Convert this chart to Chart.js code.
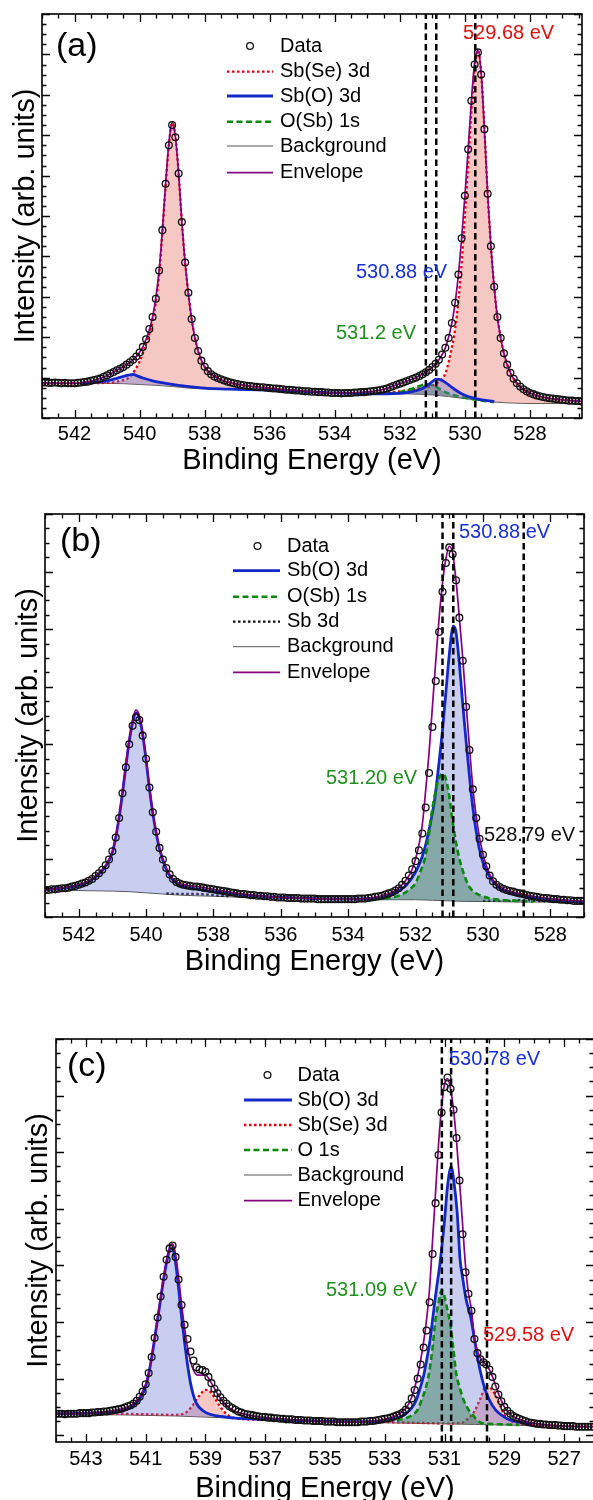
<!DOCTYPE html>
<html><head><meta charset="utf-8">
<script src="https://cdn.jsdelivr.net/npm/chart.js@4.4.1/dist/chart.umd.min.js"></script>
<style>
html,body{margin:0;padding:0;background:#fff;overflow:hidden;width:593px;height:1500px}
#wrap{position:relative;width:593px;height:1500px;overflow:hidden;background:#fff}
canvas{position:absolute;left:0}
</style></head><body><div id="wrap">
<canvas id="pa" width="593" height="495" style="top:0px;width:593px;height:495px"></canvas>
<canvas id="pb" width="593" height="510" style="top:495px;width:593px;height:510px"></canvas>
<canvas id="pc" width="600" height="495" style="top:1005px;width:600px;height:495px"></canvas>
</div>
<script>
// ---------------- Panel (a) ----------------
const aTicks = [542,540,538,536,534,532,530,528];
const aPeaks = [531.2,530.88,529.68];
const aPeakLabels = ['531.2 eV','530.88 eV','529.68 eV'];
const aDataE = [543,
542.9,542.8,542.7,542.6,542.5,542.4,542.3,542.2,542.1,542,
541.9,541.8,541.7,541.6,541.5,541.4,541.3,541.2,541.1,541,
540.9,540.8,540.7,540.6,540.5,540.4,540.3,540.2,540.1,540,
539.9,539.8,539.7,539.6,539.5,539.4,539.3,539.2,539.1,539,
538.9,538.8,538.7,538.6,538.5,538.4,538.3,538.2,538.1,538,
537.9,537.8,537.7,537.6,537.5,537.4,537.3,537.2,537.1,537,
536.9,536.8,536.7,536.6,536.5,536.4,536.3,536.2,536.1,536,
535.9,535.8,535.7,535.6,535.5,535.4,535.3,535.2,535.1,535,
534.9,534.8,534.7,534.6,534.5,534.4,534.3,534.2,534.1,534,
533.9,533.8,533.7,533.6,533.5,533.4,533.3,533.2,533.1,533,
532.9,532.8,532.7,532.6,532.5,532.4,532.3,532.2,532.1,532,
531.9,531.8,531.7,531.6,531.5,531.4,531.3,531.2,531.1,531,
530.9,530.8,530.7,530.6,530.5,530.4,530.3,530.2,530.1,530,
529.9,529.8,529.7,529.6,529.5,529.4,529.3,529.2,529.1,529,
528.9,528.8,528.7,528.6,528.5,528.4,528.3,528.2,528.1,528,
527.9,527.8,527.7,527.6,527.5,527.4,527.3,527.2,527.1,527,
526.9,526.8,526.7,526.6,526.5,526.4];
const aDataI = [0.88,
0.88,0.87,0.87,0.88,0.87,0.86,0.87,0.86,0.86,0.86,
0.87,0.88,0.89,0.9,0.92,0.94,0.96,0.98,1.02,1.06,
1.1,1.14,1.18,1.22,1.26,1.32,1.38,1.44,1.52,1.62,
1.76,1.95,2.2,2.5,2.95,3.65,4.65,5.8,6.75,7.25,
6.95,6.05,4.85,3.85,3.1,2.45,1.98,1.66,1.42,1.27,
1.16,1.08,1.03,0.99,0.96,0.93,0.9,0.88,0.86,0.84,
0.82,0.81,0.8,0.79,0.78,0.77,0.76,0.76,0.75,0.74,
0.73,0.73,0.72,0.71,0.7,0.7,0.69,0.68,0.68,0.67,
0.66,0.66,0.65,0.65,0.64,0.64,0.63,0.63,0.62,0.62,
0.62,0.61,0.62,0.62,0.62,0.63,0.63,0.64,0.64,0.65,
0.66,0.67,0.68,0.69,0.71,0.73,0.76,0.79,0.82,0.85,
0.88,0.91,0.94,0.97,1.0,1.04,1.08,1.13,1.19,1.26,
1.34,1.44,1.57,1.74,1.98,2.35,2.85,3.55,4.45,5.5,
6.65,7.85,8.75,9.05,8.5,7.15,5.55,4.25,3.25,2.5,
1.98,1.6,1.32,1.12,0.97,0.86,0.78,0.71,0.66,0.62,
0.59,0.56,0.54,0.52,0.5,0.49,0.48,0.47,0.46,0.45,
0.44,0.43,0.43,0.42,0.42,0.41];
const aEnvE = [543,542,541.6,541.2,540.8,540.4,540.2,540,539.8,539.6,539.4,539.3,539.2,539.1,539,538.9,538.8,538.7,538.6,538.4,538.2,538,537.6,537,536,535,534,533,532.5,532,531.5,531,530.8,530.6,530.4,530.3,530.2,530.1,530,529.9,529.8,529.7,529.6,529.5,529.4,529.3,529.2,529.1,529,528.8,528.6,528.4,528.2,528,527.5,527,526.4];
const aEnvI = [0.87,0.86,0.9,0.98,1.14,1.32,1.44,1.62,1.95,2.5,3.65,4.65,5.8,6.8,7.33,6.98,6.05,4.85,3.85,2.45,1.66,1.27,0.99,0.84,0.74,0.67,0.62,0.65,0.71,0.85,1.0,1.26,1.44,1.74,2.35,2.85,3.55,4.45,5.5,6.65,7.85,8.8,9.1,8.55,7.15,5.55,4.25,3.25,2.5,1.6,1.12,0.86,0.71,0.62,0.5,0.45,0.41];
const aSbSeE = [543,542,541,540.6,540.3,540,539.8,539.6,539.4,539.3,539.2,539.1,539,538.9,538.8,538.7,538.6,538.4,538.2,538,537.6,537,536,535,534,533,532.5,532,531.5,531.2,531,530.8,530.6,530.4,530.3,530.2,530.1,530,529.9,529.8,529.7,529.6,529.5,529.4,529.3,529.2,529.1,529,528.8,528.6,528.4,528.2,528,527.5,527,526.4];
const aSbSeI = [0.86,0.86,0.87,0.92,1.02,1.4,1.85,2.4,3.55,4.6,5.75,6.75,7.3,6.98,6.05,4.85,3.85,2.45,1.66,1.27,0.99,0.84,0.74,0.67,0.62,0.62,0.63,0.66,0.72,0.76,0.8,0.9,1.1,1.75,2.2,2.9,3.85,5.0,6.3,7.6,8.7,9.1,8.55,7.15,5.55,4.25,3.25,2.5,1.6,1.12,0.86,0.71,0.62,0.5,0.45,0.41];
const aSbOE = [541.8,541.4,541,540.7,540.5,540.3,540.2,540.1,539.9,539.6,539.2,538.8,538.4,538,537.5,537,536,535,534,533,532.4,532,531.7,531.4,531.2,531,530.88,530.7,530.5,530.3,530.1,529.9,529.6,529.3,529.1];
const aSbOI = [0.86,0.88,0.92,0.98,1.03,1.07,1.08,1.05,0.99,0.92,0.86,0.81,0.77,0.74,0.72,0.71,0.69,0.66,0.62,0.6,0.6,0.61,0.64,0.7,0.78,0.9,0.96,0.93,0.82,0.7,0.6,0.53,0.47,0.43,0.41];
const aOSbE = [532.6,532.2,531.9,531.6,531.4,531.2,531,530.8,530.6,530.3,530,529.7,529.4,529.1];
const aOSbI = [0.6,0.62,0.66,0.73,0.79,0.84,0.81,0.73,0.64,0.56,0.5,0.46,0.42,0.4];
const aBgE = [543,541.5,540.5,540,539.5,539,538.5,538,537,536,535,534,533,532,531.5,531,530.5,530,529.5,529,528.5,528,527,526.4];
const aBgI = [0.86,0.86,0.85,0.83,0.81,0.78,0.74,0.72,0.7,0.69,0.66,0.62,0.6,0.6,0.59,0.57,0.53,0.48,0.43,0.39,0.37,0.36,0.36,0.36];

// ---------------- Panel (b) ----------------
const bTicks = [542,540,538,536,534,532,530,528];
const bPeaks = [531.2,530.88,528.79];
const bPeakLabels = ['531.20 eV','530.88 eV','528.79 eV'];
const bDataE = [543,
542.9,542.8,542.7,542.6,542.5,542.4,542.3,542.2,542.1,542,
541.9,541.8,541.7,541.6,541.5,541.4,541.3,541.2,541.1,541,
540.9,540.8,540.7,540.6,540.5,540.4,540.3,540.2,540.1,540,
539.9,539.8,539.7,539.6,539.5,539.4,539.3,539.2,539.1,539,
538.9,538.8,538.7,538.6,538.5,538.4,538.3,538.2,538.1,538,
537.9,537.8,537.7,537.6,537.5,537.4,537.3,537.2,537.1,537,
536.9,536.8,536.7,536.6,536.5,536.4,536.3,536.2,536.1,536,
535.9,535.8,535.7,535.6,535.5,535.4,535.3,535.2,535.1,535,
534.9,534.8,534.7,534.6,534.5,534.4,534.3,534.2,534.1,534,
533.9,533.8,533.7,533.6,533.5,533.4,533.3,533.2,533.1,533,
532.9,532.8,532.7,532.6,532.5,532.4,532.3,532.2,532.1,532,
531.9,531.8,531.7,531.6,531.5,531.4,531.3,531.2,531.1,531,
530.9,530.8,530.7,530.6,530.5,530.4,530.3,530.2,530.1,530,
529.9,529.8,529.7,529.6,529.5,529.4,529.3,529.2,529.1,529,
528.9,528.8,528.7,528.6,528.5,528.4,528.3,528.2,528.1,528,
527.9,527.8,527.7,527.6,527.5,527.4,527.3,527.2,527.1,527];
const bDataI = [0.47,
0.47,0.48,0.48,0.49,0.5,0.5,0.51,0.53,0.54,0.56,
0.58,0.6,0.63,0.66,0.71,0.76,0.82,0.9,1.0,1.14,
1.38,1.72,2.15,2.6,3.0,3.32,3.47,3.42,3.15,2.75,
2.25,1.82,1.48,1.2,1.0,0.85,0.74,0.66,0.61,0.58,
0.56,0.55,0.54,0.53,0.53,0.52,0.51,0.5,0.49,0.48,
0.47,0.46,0.45,0.44,0.43,0.42,0.41,0.4,0.4,0.39,
0.38,0.38,0.37,0.37,0.36,0.36,0.35,0.35,0.34,0.34,
0.34,0.33,0.33,0.33,0.33,0.32,0.32,0.32,0.32,0.32,
0.31,0.31,0.31,0.31,0.31,0.31,0.31,0.31,0.31,0.31,
0.31,0.31,0.32,0.32,0.32,0.33,0.34,0.35,0.36,0.37,
0.39,0.41,0.43,0.46,0.5,0.56,0.63,0.72,0.83,0.97,
1.16,1.45,1.9,2.5,3.3,4.1,4.95,5.65,6.15,6.42,
6.3,5.85,5.2,4.45,3.65,2.9,2.22,1.72,1.36,1.08,
0.88,0.72,0.62,0.56,0.52,0.49,0.47,0.45,0.44,0.42,
0.41,0.4,0.38,0.37,0.36,0.35,0.34,0.33,0.33,0.32,
0.31,0.31,0.3,0.3,0.29,0.29,0.28,0.28,0.28,0.28];
const bEnvE = [543,542,541.6,541.2,541,540.9,540.8,540.7,540.6,540.5,540.4,540.3,540.2,540.1,540,539.9,539.8,539.7,539.6,539.4,539.2,539,538.5,538,537,536,535,534,533.5,533,532.6,532.3,532.1,531.9,531.8,531.7,531.6,531.5,531.4,531.3,531.2,531.1,531,530.9,530.8,530.7,530.6,530.5,530.4,530.3,530.2,530.1,530,529.8,529.6,529.4,529,528.5,528,527.5,527];
const bEnvI = [0.47,0.56,0.66,0.9,1.14,1.4,1.75,2.18,2.65,3.08,3.42,3.6,3.5,3.2,2.75,2.25,1.82,1.48,1.2,0.85,0.66,0.58,0.53,0.48,0.39,0.34,0.32,0.31,0.32,0.37,0.46,0.63,0.83,1.25,1.6,2.2,2.85,3.65,4.45,5.2,5.8,6.22,6.44,6.32,5.85,5.2,4.5,3.7,2.95,2.25,1.75,1.38,1.1,0.74,0.57,0.49,0.42,0.36,0.32,0.29,0.28];
const bSbOE = [543,542,541.6,541.2,541,540.9,540.8,540.7,540.6,540.5,540.4,540.3,540.2,540.1,540,539.9,539.8,539.7,539.6,539.4,539.2,539,538.5,538,537,536,535,534,533,532.67,532.28,532,531.8,531.66,531.5,531.43,531.3,531.2,531.1,531,530.88,530.8,530.7,530.6,530.5,530.4,530.3,530.12,530,529.8,529.5,529.2,528.8,528.4,528,527.5,527];
const bSbOI = [0.47,0.55,0.65,0.88,1.12,1.38,1.73,2.15,2.62,3.05,3.38,3.55,3.46,3.17,2.73,2.23,1.8,1.46,1.18,0.83,0.64,0.55,0.49,0.44,0.38,0.34,0.32,0.31,0.33,0.4,0.55,0.78,1.05,1.35,1.8,2.05,2.7,3.25,3.9,4.55,5.05,4.95,4.4,3.7,3.05,2.45,1.9,1.22,0.95,0.7,0.5,0.42,0.36,0.33,0.3,0.28,0.27];
const bOSbE = [533.2,532.8,532.45,532.2,532,531.85,531.71,531.6,531.54,531.4,531.3,531.2,531.1,531,530.92,530.8,530.69,530.55,530.41,530.25,530.1,529.84,529.5,529,528.5];
const bOSbI = [0.31,0.33,0.38,0.47,0.59,0.8,1.05,1.45,1.74,2.2,2.42,2.49,2.4,2.1,1.74,1.3,0.99,0.72,0.53,0.43,0.38,0.33,0.3,0.28,0.27];
const bSb3dE = [539.4,539,538.6,538.2,537.8,537.5,533,530,529.6,529.2,528.8,528.4,528,527.6];
const bSb3dI = [0.41,0.4,0.4,0.39,0.37,0.36,null,0.28,0.28,0.28,0.3,0.28,0.27,0.26];
const bBgE = [543,542,541,540.5,540,539.5,539,538,537,536,535,534,533,532,531.5,531,530.5,530,529,528,527];
const bBgI = [0.47,0.46,0.45,0.44,0.42,0.4,0.38,0.36,0.34,0.33,0.32,0.31,0.3,0.3,0.29,0.28,0.27,0.27,0.26,0.26,0.25];

// ---------------- Panel (c) ----------------
const cTicks = [543,541,539,537,535,533,531,529,527];
const cPeaks = [531.09,530.78,529.58];
const cPeakLabels = ['531.09 eV','530.78 eV','529.58 eV'];
const cDataE = [544,
543.9,543.8,543.7,543.6,543.5,543.4,543.3,543.2,543.1,543,
542.9,542.8,542.7,542.6,542.5,542.4,542.3,542.2,542.1,542,
541.9,541.8,541.7,541.6,541.5,541.4,541.3,541.2,541.1,541,
540.9,540.8,540.7,540.6,540.5,540.4,540.3,540.2,540.1,540,
539.9,539.8,539.7,539.6,539.5,539.4,539.3,539.2,539.1,539,
538.9,538.8,538.7,538.6,538.5,538.4,538.3,538.2,538.1,538,
537.9,537.8,537.7,537.6,537.5,537.4,537.3,537.2,537.1,537,
536.9,536.8,536.7,536.6,536.5,536.4,536.3,536.2,536.1,536,
535.9,535.8,535.7,535.6,535.5,535.4,535.3,535.2,535.1,535,
534.9,534.8,534.7,534.6,534.5,534.4,534.3,534.2,534.1,534,
533.9,533.8,533.7,533.6,533.5,533.4,533.3,533.2,533.1,533,
532.9,532.8,532.7,532.6,532.5,532.4,532.3,532.2,532.1,532,
531.9,531.8,531.7,531.6,531.5,531.4,531.3,531.2,531.1,531,
530.9,530.8,530.7,530.6,530.5,530.4,530.3,530.2,530.1,530,
529.9,529.8,529.7,529.6,529.5,529.4,529.3,529.2,529.1,529,
528.9,528.8,528.7,528.6,528.5,528.4,528.3,528.2,528.1,528,
527.9,527.8,527.7,527.6,527.5,527.4,527.3,527.2,527.1,527,
526.9,526.8,526.7,526.6,526.5,526.4,526.3,526.2,526.1,526];
const cDataI = [0.38,
0.38,0.38,0.37,0.38,0.38,0.38,0.38,0.39,0.39,0.39,
0.39,0.4,0.4,0.41,0.41,0.42,0.42,0.43,0.44,0.45,
0.46,0.47,0.49,0.51,0.53,0.56,0.61,0.68,0.77,0.9,
1.1,1.38,1.72,2.08,2.45,2.8,3.1,3.3,3.35,3.15,
2.75,2.3,1.95,1.7,1.48,1.32,1.2,1.16,1.15,1.12,
1.03,0.92,0.82,0.74,0.67,0.61,0.56,0.51,0.48,0.45,
0.42,0.4,0.38,0.37,0.36,0.35,0.34,0.33,0.32,0.32,
0.31,0.31,0.3,0.3,0.29,0.29,0.28,0.28,0.28,0.27,
0.27,0.27,0.26,0.26,0.26,0.25,0.25,0.25,0.25,0.24,
0.24,0.24,0.24,0.23,0.23,0.23,0.23,0.23,0.23,0.23,
0.23,0.24,0.24,0.24,0.25,0.25,0.26,0.27,0.28,0.29,
0.3,0.31,0.33,0.35,0.37,0.4,0.45,0.53,0.65,0.8,
1.0,1.25,1.55,1.85,2.35,3.2,4.1,4.95,5.7,6.15,
6.32,6.12,5.75,5.25,4.5,3.55,2.88,2.5,2.2,1.7,
1.45,1.34,1.29,1.25,1.16,1.03,0.86,0.72,0.6,0.5,
0.43,0.38,0.34,0.31,0.29,0.27,0.25,0.23,0.22,0.21,
0.2,0.2,0.19,0.19,0.18,0.18,0.18,0.17,0.17,0.16,
0.16,0.16,0.16,0.15,0.15,0.15,0.15,0.15,0.15,0.15];
const cEnvE = [544,543,542,541.6,541.4,541.2,541,540.9,540.8,540.7,540.6,540.5,540.4,540.3,540.2,540.1,540,539.9,539.8,539.7,539.6,539.5,539.4,539.3,539.2,539,538.8,538.6,538.4,538.2,538,537.6,537,536,535,534,533.5,533,532.6,532.3,532.1,531.9,531.7,531.6,531.5,531.4,531.3,531.2,531.1,531,530.9,530.8,530.7,530.6,530.5,530.4,530.3,530.2,530.1,530,529.8,529.6,529.5,529.4,529.2,529,528.8,528.5,528,527,526];
const cEnvI = [0.38,0.39,0.44,0.5,0.56,0.68,0.9,1.1,1.38,1.72,2.08,2.45,2.8,3.1,3.32,3.38,3.2,2.8,2.32,1.9,1.55,1.3,1.15,1.07,1.06,1.06,0.92,0.73,0.58,0.48,0.42,0.36,0.31,0.27,0.24,0.23,0.24,0.28,0.35,0.47,0.67,1.05,1.65,2.05,2.6,3.45,4.3,5.15,5.8,6.2,6.3,6.12,5.75,5.2,4.5,3.75,3.0,2.5,2.22,1.72,1.36,1.24,1.16,1.04,0.74,0.5,0.37,0.28,0.21,0.16,0.15];
const cSbOE = [544,543,542,541.6,541.4,541.2,541,540.9,540.8,540.7,540.6,540.5,540.4,540.3,540.2,540.1,540,539.9,539.8,539.7,539.6,539.5,539.4,539.3,539.1,538.9,538.6,538.3,538,537,536,535,534,533.3,532.8,532.48,532.3,532.1,531.95,531.84,531.7,531.58,531.48,531.39,531.28,531.15,531,530.9,530.78,530.68,530.58,530.48,530.4,530.28,530.13,530,529.92,529.8,529.67,529.5,529.28,529,528.77,528.4,528.1];
const cSbOI = [0.38,0.39,0.42,0.47,0.53,0.64,0.86,1.08,1.37,1.7,2.05,2.4,2.75,3.05,3.27,3.3,3.05,2.6,2.1,1.65,1.25,0.92,0.7,0.56,0.44,0.38,0.34,0.32,0.3,0.28,0.26,0.25,0.24,0.24,0.27,0.32,0.38,0.48,0.62,0.79,1.05,1.38,1.7,2.09,2.55,3.05,3.8,4.4,4.74,4.45,3.95,3.1,2.8,2.4,2.1,1.7,1.45,1.12,0.85,0.62,0.44,0.32,0.26,0.22,0.2];
const cSbSeE = [544,542,541,540,539.6,539.4,539.2,539,538.8,538.6,538.4,538.2,538,537,536,535,534,533,532,531,530.4,530.2,530,529.8,529.6,529.4,529.2,529,528.8,528.5,528,527,526];
const cSbSeI = [0.38,0.38,0.37,0.36,0.42,0.55,0.7,0.8,0.75,0.58,0.43,0.34,0.3,0.27,0.26,0.24,0.23,0.23,0.22,0.21,0.22,0.3,0.42,0.65,0.87,0.8,0.6,0.36,0.26,0.2,0.18,0.16,0.15];
const cO1sE = [532.6,532.3,532.1,531.9,531.77,531.65,531.52,531.4,531.32,531.2,531.09,531,530.9,530.81,530.7,530.61,530.5,530.36,530.2,530.05,529.79,529.5,529,528.5];
const cO1sI = [0.27,0.3,0.35,0.45,0.62,0.8,1.09,1.55,1.97,2.35,2.56,2.45,2.2,1.97,1.5,1.09,0.85,0.62,0.45,0.35,0.22,0.2,0.19,0.18];
const cBgE = [544,543,542,541,540,539,538,537,536,535,534,533,532,531,530,529,528,527,526];
const cBgI = [0.36,0.36,0.36,0.35,0.34,0.32,0.3,0.28,0.26,0.24,0.23,0.22,0.21,0.2,0.19,0.18,0.17,0.16,0.15];

// ---------------- styles ----------------
const FONT = "'Liberation Sans', Arial, Helvetica, sans-serif";
const ST = {
  red:   {color:'#e00010', width:2.3, dash:[2.5,2.5], fill:'rgba(232,110,100,0.38)'},
  blue:  {color:'#1428c8', width:2.8, dash:[], fill:'rgba(105,120,215,0.36)'},
  green: {color:'#0a8a0a', width:2.6, dash:[6,3.5], fill:'rgba(40,115,70,0.42)'},
  black: {color:'#111111', width:2.3, dash:[2.5,2.5], fill:null},
  bg:    {color:'#555555', width:1, dash:[], fill:null},
  env:   {color:'#85007f', width:1.7, dash:[], fill:null}
};
const TXT = {red:'#dd1111', blue:'#1a2fd6', green:'#1f8f1f', black:'#111111'};

function P(xs, ys){ return xs.map((x,i)=>({x:x, y:ys[i]})); }
function curve(xs, ys, st, order){
  return {data:P(xs,ys), borderColor:st.color, borderWidth:st.width, borderDash:st.dash,
    pointRadius:0, cubicInterpolationMode:'monotone', spanGaps:false, order:order,
    backgroundColor: st.fill || 'rgba(0,0,0,0)',
    fill: st.fill ? {target:0, above:st.fill, below:'rgba(0,0,0,0)'} : false};
}

const framePlugin = {
  id:'frame',
  afterDraw(chart, args, o){
    const c = chart.ctx, A = chart.chartArea, X = chart.scales.x, Y = chart.scales.y, off = o.off;
    c.save();
    c.strokeStyle = '#000'; c.lineWidth = 1.3; c.setLineDash([]);
    c.beginPath();
    for (let k = Math.ceil(X.min/0.5 - 1e-6); k*0.5 <= X.max + 1e-6; k++){
      const v = k*0.5, px = Math.round(X.getPixelForValue(v)) + 0.5;
      const L = o.ticks.indexOf(v) >= 0 ? 8 : 4.5;
      c.moveTo(px, A.bottom); c.lineTo(px, A.bottom - L);
      c.moveTo(px, A.top); c.lineTo(px, A.top + L);
    }
    for (let k = Math.ceil(Y.min/0.25 - 1e-6); k*0.25 <= Y.max + 1e-6; k++){
      const v = k*0.25, py = Math.round(Y.getPixelForValue(v)) + 0.5;
      const L = (k % 4 === 0) ? 8 : 4.5;
      c.moveTo(A.left, py); c.lineTo(A.left + L, py);
      c.moveTo(A.right, py); c.lineTo(A.right - L, py);
    }
    c.stroke();
    c.lineWidth = 1.6;
    c.strokeRect(A.left, A.top, A.right - A.left, A.bottom - A.top);
    c.fillStyle = '#000';
    c.font = '29px ' + FONT; c.textAlign = 'center'; c.textBaseline = 'alphabetic';
    c.fillText(o.xTitle, (A.left + A.right)/2, o.xTitleY - off);
    c.save(); c.translate(o.yTitleX, (A.top + A.bottom)/2); c.rotate(-Math.PI/2);
    c.fillText(o.yTitle, 0, 0); c.restore();
    c.font = '34px ' + FONT; c.textAlign = 'left'; c.textBaseline = 'middle';
    c.fillText(o.tag, o.tagX, o.tagY - off);
    const g = o.legend;
    c.font = '20px ' + FONT;
    g.rows.forEach(r => {
      const y = r.y - off;
      if (r.s === 'data'){
        c.beginPath(); c.lineWidth = 1.3; c.strokeStyle = '#111'; c.setLineDash([]);
        c.arc(g.cx, y, 3.4, 0, 2*Math.PI); c.stroke();
      } else {
        const s = ST[r.s];
        c.beginPath(); c.lineWidth = s.width; c.strokeStyle = s.color; c.setLineDash(s.dash);
        c.moveTo(g.x0, y); c.lineTo(g.x1, y); c.stroke(); c.setLineDash([]);
      }
      c.fillStyle = '#000'; c.fillText(r.text, g.tx, y);
    });
    o.notes.forEach(n => { c.fillStyle = TXT[n.c]; c.fillText(n.text, n.x, n.y - off); });
    c.restore();
  }
};

function panel(id, cfg){
  const ds = [curve(cfg.bg[0], cfg.bg[1], ST.bg, 6)];
  cfg.comps.forEach(k => ds.push(curve(k.e, k.i, ST[k.s], k.order)));
  ds.push(curve(cfg.env[0], cfg.env[1], ST.env, 2));
  cfg.peaks.forEach(p => ds.push({data:[{x:p, y:cfg.yMin},{x:p, y:cfg.yMax}], borderColor:'#000',
    borderWidth:2.5, borderDash:[6.5,4], pointRadius:0, fill:false, order:1}));
  ds.push({data:P(cfg.data[0], cfg.data[1]), showLine:false, pointRadius:3.4, pointBorderWidth:1.3,
    pointBorderColor:'#111', pointBackgroundColor:'rgba(0,0,0,0)', borderColor:'#111', fill:false, order:0});
  new Chart(document.getElementById(id), {
    type:'line',
    data:{datasets:ds},
    options:{
      responsive:false, animation:false, devicePixelRatio:1, events:[],
      layout:{padding:{top:cfg.top, right:cfg.padR, left:0, bottom:0}},
      plugins:{legend:{display:false}, tooltip:{enabled:false}, frame:cfg.frame},
      scales:{
        x:{type:'linear', reverse:true, min:cfg.xMin, max:cfg.xMax,
          afterBuildTicks: s => { s.ticks = cfg.frame.ticks.map(v => ({value:v})); },
          afterFit: s => { s.height = cfg.xH; },
          ticks:{color:'#000', font:{family:FONT, size:20}, padding:cfg.tickPad, maxRotation:0, autoSkip:false,
            callback: v => String(v)},
          grid:{display:false, drawTicks:false}, border:{display:false}},
        y:{type:'linear', min:cfg.yMin, max:cfg.yMax,
          afterFit: s => { s.width = cfg.left; },
          ticks:{display:false}, grid:{display:false, drawTicks:false}, border:{display:false}}
      }
    },
    plugins:[framePlugin]
  });
}

const XT = 'Binding Energy (eV)', YT = 'Intensity (arb. units)';

panel('pa', {
  xMin:526.4, xMax:543, yMin:0, yMax:10, top:14, padR:11, left:42, xH:77, tickPad:4,
  data:[aDataE, aDataI], env:[aEnvE, aEnvI], bg:[aBgE, aBgI], peaks:aPeaks,
  comps:[{e:aSbSeE, i:aSbSeI, s:'red', order:5},{e:aOSbE, i:aOSbI, s:'green', order:4},{e:aSbOE, i:aSbOI, s:'blue', order:3}],
  frame:{off:0, ticks:aTicks, xTitle:XT, xTitleY:469, yTitle:YT, yTitleX:33.5, tag:'(a)', tagX:56, tagY:47,
    legend:{cx:250, x0:227, x1:273, tx:280, rows:[
      {s:'data', y:46, text:'Data'}, {s:'red', y:71.7, text:'Sb(Se) 3d'}, {s:'blue', y:96, text:'Sb(O) 3d'},
      {s:'green', y:121.7, text:'O(Sb) 1s'}, {s:'bg', y:146, text:'Background'}, {s:'env', y:172.7, text:'Envelope'}]},
    notes:[{text:aPeakLabels[2], c:'red', x:463, y:33}, {text:aPeakLabels[1], c:'blue', x:356, y:272},
      {text:aPeakLabels[0], c:'green', x:336, y:333}]}
});

panel('pb', {
  xMin:527, xMax:543, yMin:0, yMax:7, top:19, padR:9, left:45, xH:88, tickPad:6,
  data:[bDataE, bDataI], env:[bEnvE, bEnvI], bg:[bBgE, bBgI], peaks:bPeaks,
  comps:[{e:bSb3dE, i:bSb3dI, s:'black', order:5},{e:bSbOE, i:bSbOI, s:'blue', order:4},{e:bOSbE, i:bOSbI, s:'green', order:3}],
  frame:{off:495, ticks:bTicks, xTitle:XT, xTitleY:970, yTitle:YT, yTitleX:36.5, tag:'(b)', tagX:60, tagY:542,
    legend:{cx:257.5, x0:233, x1:280, tx:287, rows:[
      {s:'data', y:546, text:'Data'}, {s:'blue', y:570.7, text:'Sb(O) 3d'}, {s:'green', y:596.7, text:'O(Sb) 1s'},
      {s:'black', y:621.7, text:'Sb 3d'}, {s:'bg', y:646.7, text:'Background'}, {s:'env', y:672.3, text:'Envelope'}]},
    notes:[{text:bPeakLabels[1], c:'blue', x:459, y:532}, {text:bPeakLabels[0], c:'green', x:326, y:778},
      {text:bPeakLabels[2], c:'black', x:484, y:835}]}
});

panel('pc', {
  xMin:526, xMax:544, yMin:-0.12, yMax:7, top:34, padR:6, left:56, xH:58, tickPad:5,
  data:[cDataE, cDataI], env:[cEnvE, cEnvI], bg:[cBgE, cBgI], peaks:cPeaks,
  comps:[{e:cSbSeE, i:cSbSeI, s:'red', order:5},{e:cSbOE, i:cSbOI, s:'blue', order:4},{e:cO1sE, i:cO1sI, s:'green', order:3}],
  frame:{off:1005, ticks:cTicks, xTitle:XT, xTitleY:1497, yTitle:YT, yTitleX:46.5, tag:'(c)', tagX:67, tagY:1067,
    legend:{cx:267.5, x0:244, x1:292, tx:297.5, rows:[
      {s:'data', y:1075, text:'Data'}, {s:'blue', y:1100, text:'Sb(O) 3d'}, {s:'red', y:1125, text:'Sb(Se) 3d'},
      {s:'green', y:1150, text:'O 1s'}, {s:'bg', y:1175, text:'Background'}, {s:'env', y:1200.7, text:'Envelope'}]},
    notes:[{text:cPeakLabels[1], c:'blue', x:449, y:1059}, {text:cPeakLabels[0], c:'green', x:326, y:1290},
      {text:cPeakLabels[2], c:'red', x:483, y:1335}]}
});
</script>
</body></html>
